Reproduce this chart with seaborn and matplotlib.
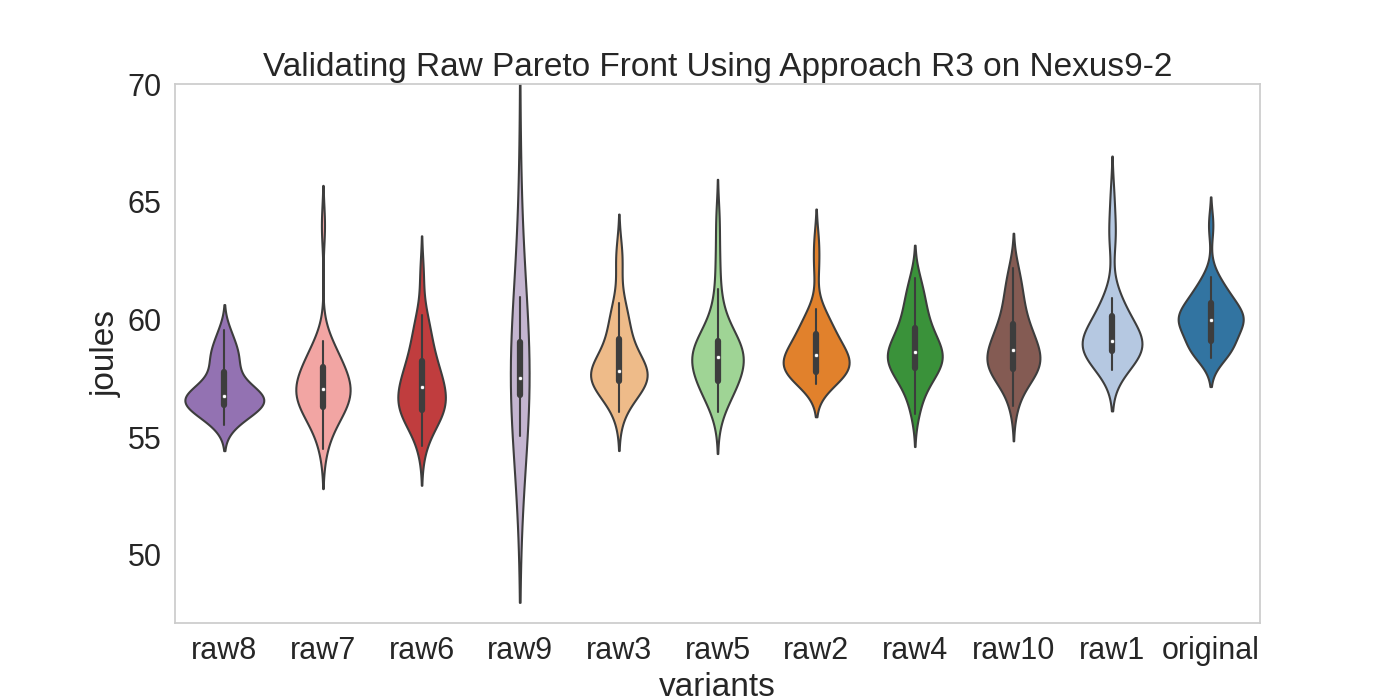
import numpy as np
import pandas as pd
import seaborn as sns
import matplotlib.pyplot as plt

# order of the violins on the x axis
variants = ['raw8', 'raw7', 'raw6', 'raw9', 'raw3', 'raw5', 'raw2', 'raw4', 'raw10', 'raw1', 'original']

# joules per run (quartiles, whiskers and tails)
raw8 = [55.5, 55.7, 55.9, 56.0, 56.1, 56.2, 56.3, 56.35, 56.4, 56.5,
        56.55, 56.6, 56.65, 56.7, 56.7, 56.75, 56.8, 56.9, 57.0, 57.1,
        57.3, 57.6, 57.8, 58.0, 58.3, 58.5, 58.6, 58.8, 59.2, 59.55]
raw7 = [54.5, 55.2, 55.6, 55.85, 56.0, 56.1, 56.15, 56.2, 56.55, 56.65,
        56.72, 56.79, 56.86, 56.92, 56.98, 57.12, 57.2, 57.28, 57.37, 57.47,
        57.6, 57.85, 58.0, 58.12, 58.25, 58.42, 58.62, 58.85, 59.1, 64.0]
raw6 = [54.6, 55.25, 55.6, 55.8, 55.95, 56.03, 56.08, 56.12, 56.25, 56.38,
        56.5, 56.62, 56.74, 56.86, 57.05, 57.2, 57.3, 57.42, 57.55, 57.7,
        57.88, 58.08, 58.3, 58.55, 58.85, 59.15, 59.5, 59.85, 60.2, 61.9]
raw9 = [55.05, 55.6, 55.95, 56.2, 56.4, 56.55, 56.68, 56.75, 56.85, 56.95,
        57.05, 57.15, 57.25, 57.35, 57.45, 57.55, 57.65, 57.75, 57.9, 58.1,
        58.35, 58.8, 59.1, 59.45, 59.85, 60.3, 60.95, 63.0, 65.5, 94.5]
raw3 = [56.05, 56.55, 56.85, 57.05, 57.18, 57.27, 57.33, 57.38, 57.45, 57.52,
        57.58, 57.63, 57.68, 57.72, 57.78, 57.86, 57.95, 58.08, 58.25, 58.45,
        58.7, 58.98, 59.2, 59.5, 59.8, 60.1, 60.4, 60.7, 62.3, 62.85]
raw5 = [56.05, 56.65, 56.95, 57.08, 57.15, 57.2, 57.23, 57.25, 57.75, 57.9,
        58.02, 58.12, 58.21, 58.29, 58.37, 58.47, 58.55, 58.63, 58.7, 58.78,
        58.86, 58.95, 59.15, 59.35, 59.6, 59.9, 60.35, 61.3, 62.6, 64.2]
raw2 = [57.25, 57.5, 57.6, 57.65, 57.69, 57.72, 57.74, 57.76, 57.85, 57.95,
        58.05, 58.15, 58.23, 58.32, 58.42, 58.52, 58.6, 58.68, 58.77, 58.87,
        59.0, 59.2, 59.45, 59.6, 59.75, 59.9, 60.1, 60.45, 62.2, 63.3]
raw4 = [56.0, 56.6, 57.0, 57.3, 57.52, 57.7, 57.82, 57.9, 58.02, 58.13,
        58.23, 58.32, 58.4, 58.48, 58.56, 58.66, 58.76, 58.86, 58.98, 59.12,
        59.3, 59.5, 59.68, 59.9, 60.15, 60.4, 60.7, 61.0, 61.35, 61.75]
raw10 = [56.3, 56.95, 57.35, 57.58, 57.72, 57.8, 57.85, 57.88, 58.0, 58.12,
         58.22, 58.32, 58.41, 58.5, 58.62, 58.8, 58.92, 59.04, 59.16, 59.3,
         59.45, 59.65, 59.85, 60.1, 60.4, 60.7, 61.0, 61.35, 61.75, 62.2]
raw1 = [57.85, 58.1, 58.25, 58.35, 58.45, 58.52, 58.58, 58.63, 58.7, 58.78,
        58.85, 58.9, 58.95, 59.0, 59.05, 59.12, 59.2, 59.3, 59.4, 59.5,
        59.65, 59.85, 60.25, 60.4, 60.55, 60.7, 60.9, 63.4, 63.8, 65.2]
original = [58.35, 58.55, 58.65, 58.72, 58.8, 58.86, 58.92, 58.95, 59.45, 59.6,
            59.7, 59.78, 59.85, 59.9, 59.95, 60.0, 60.05, 60.1, 60.18, 60.28,
            60.4, 60.6, 60.7, 60.8, 60.95, 61.1, 61.3, 61.55, 61.8, 64.0]

samples = {'raw8': raw8, 'raw7': raw7, 'raw6': raw6, 'raw9': raw9,
           'raw3': raw3, 'raw5': raw5, 'raw2': raw2, 'raw4': raw4,
           'raw10': raw10, 'raw1': raw1, 'original': original}

#Build a long form table for seaborn
rows = []
for name in variants:
    for v in samples[name]:
        rows.append((name, v))
df = pd.DataFrame(rows, columns=['variants', 'joules'])

sns.set_theme(style='whitegrid', font_scale=2, rc={'axes.grid': False})
plt.rcParams['font.family'] = ['Liberation Sans', 'DejaVu Sans']

#rawN gets tab20 colour N, original gets the first one
tab20 = sns.color_palette('tab20', 20)
colors = {'original': tab20[0]}
for i in range(1, 11):
    colors['raw%d' % i] = tab20[i]

fig, ax = plt.subplots(figsize=(14, 7))
sns.violinplot(data=df, x='variants', y='joules', hue='variants', order=variants,
               palette=colors, legend=False, common_norm=True, linewidth=1.5,
               linecolor='#3d3d3d',
               inner_kws={'box_width': 4.5, 'whis_width': 1.5, 'marker': ''}, ax=ax)

#white median dots like the old seaborn box inner
medians = [np.median(samples[name]) for name in variants]
ax.scatter(range(len(variants)), medians, s=9, color='white', edgecolor='#3d3d3d',
           linewidth=0.5, zorder=5)

ax.set_xlim(-0.5, len(variants) - 0.5)
ax.set_ylim(47.1, 70)
ax.set_yticks([50, 55, 60, 65, 70])
ax.set_title('Validating Raw Pareto Front Using Approach R3 on Nexus9-2')
ax.set_xlabel('variants')
ax.set_ylabel('joules')
fig.savefig('out.png', dpi=100)
